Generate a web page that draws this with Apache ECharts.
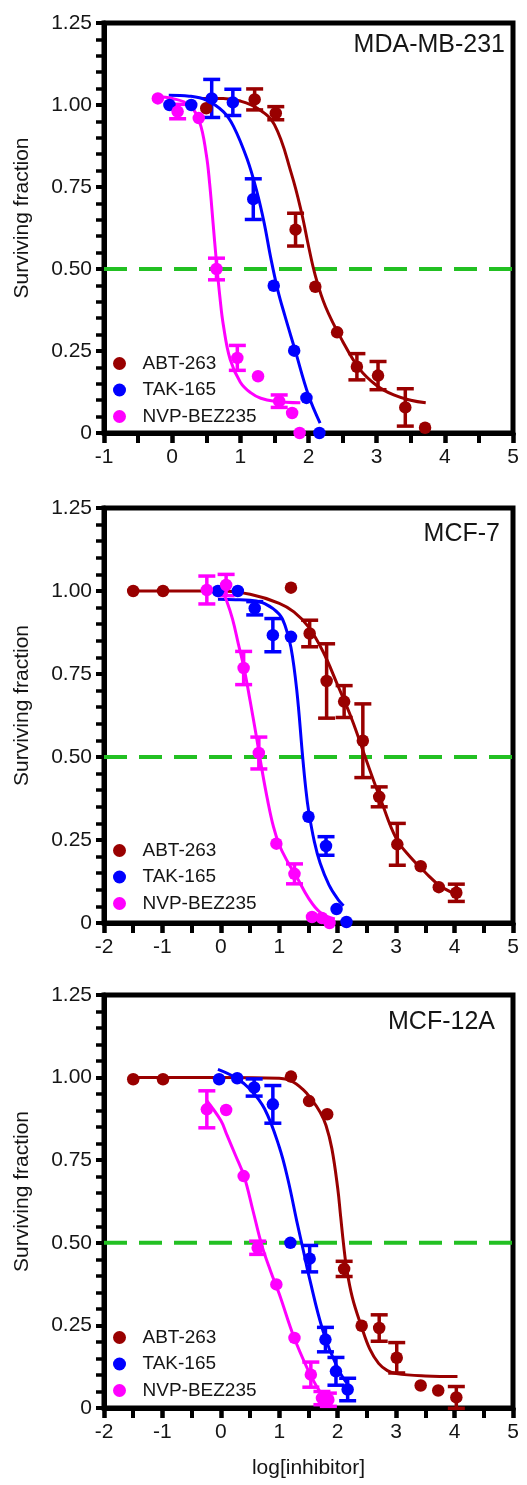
<!DOCTYPE html>
<html>
<head>
<meta charset="utf-8">
<script src="https://cdn.jsdelivr.net/npm/echarts@6/dist/echarts.min.js"></script>
<style>
html,body{margin:0;padding:0;background:#fff;}
#chart{width:527px;height:1485px;}
</style>
</head>
<body>
<div id="chart"></div>
<script>
// ---------- data ----------
const panelTitles = ['MDA-MB-231', 'MCF-7', 'MCF-12A'];
const drugNames = ['ABT-263', 'TAK-165', 'NVP-BEZ235'];
const drugColors = ['#990000', '#0000FF', '#FF00FF'];
const xMins = [-1, -2, -2];
const xMax = 5;
const yTickLabels = ['0', '0.25', '0.50', '0.75', '1.00', '1.25'];
const halfLine = 0.5;
const xAxisTitle = 'log[inhibitor]';
const yAxisTitle = 'Surviving fraction';

// points: [log x, surviving fraction, error (0 = no bar)]
// MDA-MB-231
const mdaABT = [[0.50,0.99,0],[1.21,1.017,0.032],[1.52,0.975,0.02],[1.81,0.62,0.05],[2.10,0.446,0],[2.42,0.307,0],[2.71,0.202,0.04],[3.02,0.175,0.043],[3.42,0.078,0.057],[3.71,0.016,0]];
const mdaTAK = [[-0.04,1.0,0],[0.28,1.0,0],[0.58,1.02,0.058],[0.89,1.008,0.04],[1.19,0.713,0.062],[1.49,0.449,0],[1.79,0.251,0],[1.97,0.107,0],[2.16,0.0,0]];
const mdaNVP = [[-0.21,1.02,0],[0.08,0.98,0.022],[0.39,0.96,0],[0.65,0.50,0.033],[0.956,0.229,0.038],[1.26,0.173,0],[1.57,0.097,0.019],[1.76,0.061,0],[1.87,0.0,0]];
// fitted curves: [log x, fraction]
const mdaABTfit = [[0.45,1.02],[0.75,1.02],[1.0,1.012],[1.25,0.99],[1.5,0.94],[1.75,0.79],[1.9,0.67],[2.0,0.57],[2.1,0.48],[2.25,0.385],[2.5,0.28],[2.75,0.195],[3.0,0.145],[3.25,0.116],[3.5,0.1],[3.72,0.092]];
const mdaTAKfit = [[-0.05,1.03],[0.25,1.027],[0.5,1.015],[0.75,0.98],[0.9,0.935],[1.1,0.835],[1.25,0.73],[1.35,0.64],[1.45,0.53],[1.55,0.435],[1.65,0.36],[1.8,0.255],[2.0,0.115],[2.17,0.03]];
const mdaNVPfit = [[-0.22,1.025],[0.0,1.02],[0.25,1.0],[0.4,0.95],[0.5,0.85],[0.55,0.76],[0.6,0.64],[0.65,0.52],[0.7,0.415],[0.75,0.33],[0.85,0.225],[1.0,0.155],[1.15,0.123],[1.3,0.106],[1.5,0.097],[1.88,0.092]];

// MCF-7
const mcf7ABT = [[-1.50,1.0,0],[-0.99,1.0,0],[1.20,1.01,0],[1.52,0.872,0.04],[1.81,0.729,0.112],[2.11,0.667,0.048],[2.43,0.549,0.111],[2.71,0.38,0.03],[3.02,0.237,0.063],[3.42,0.171,0],[3.73,0.108,0],[4.03,0.091,0.026]];
const mcf7TAK = [[-0.05,1.0,0],[0.29,1.0,0],[0.58,0.948,0.02],[0.89,0.867,0.05],[1.20,0.862,0],[1.50,0.32,0],[1.80,0.232,0.028],[1.98,0.042,0],[2.15,0.003,0]];
const mcf7NVP = [[-0.24,1.003,0.042],[0.09,1.018,0.032],[0.39,0.768,0.05],[0.65,0.512,0.048],[0.95,0.239,0],[1.26,0.148,0.03],[1.56,0.018,0],[1.73,0.015,0],[1.86,0.0,0]];
const mcf7ABTfit = [[-1.5,1.0],[-0.5,1.0],[0,1.0],[0.5,0.99],[1.0,0.963],[1.25,0.937],[1.5,0.892],[1.75,0.817],[2.0,0.716],[2.25,0.61],[2.5,0.485],[2.75,0.365],[3.0,0.255],[3.25,0.197],[3.5,0.152],[3.75,0.112],[4.0,0.088]];
const mcf7TAKfit = [[-0.05,0.975],[0.25,0.974],[0.5,0.972],[0.75,0.962],[1.0,0.93],[1.1,0.895],[1.2,0.83],[1.3,0.7],[1.4,0.5],[1.45,0.41],[1.5,0.34],[1.6,0.245],[1.7,0.18],[1.85,0.115],[2.0,0.072],[2.1,0.052]];
const mcf7NVPfit = [[0,1.01],[0.1,0.97],[0.2,0.915],[0.3,0.84],[0.4,0.765],[0.5,0.67],[0.6,0.57],[0.7,0.465],[0.8,0.37],[0.9,0.29],[1.0,0.235],[1.15,0.182],[1.3,0.138],[1.5,0.075],[1.7,0.032],[1.95,0.012]];

// MCF-12A
const mcf12ABT = [[-1.50,0.995,0],[-0.99,0.995,0],[1.20,1.003,0],[1.51,0.929,0],[1.82,0.889,0],[2.11,0.421,0.023],[2.41,0.249,0],[2.71,0.242,0.04],[3.01,0.152,0.046],[3.42,0.068,0],[3.72,0.053,0],[4.03,0.032,0.033]];
const mcf12TAK = [[-0.03,0.995,0],[0.28,0.998,0],[0.57,0.97,0.026],[0.89,0.919,0.057],[1.19,0.5,0],[1.52,0.452,0.04],[1.79,0.207,0.037],[1.97,0.111,0.042],[2.17,0.056,0.034]];
const mcf12NVP = [[-0.24,0.904,0.056],[0.09,0.902,0],[0.39,0.702,0],[0.63,0.485,0.02],[0.95,0.374,0],[1.26,0.212,0],[1.54,0.101,0.038],[1.73,0.03,0.02],[1.84,0.025,0.02]];
const mcf12ABTfit = [[-1.5,1.0],[0,1.0],[1.0,0.998],[1.2,0.99],[1.4,0.965],[1.55,0.935],[1.7,0.895],[1.8,0.855],[1.9,0.785],[2.0,0.665],[2.05,0.58],[2.1,0.495],[2.15,0.425],[2.25,0.335],[2.4,0.25],[2.55,0.178],[2.7,0.135],[2.85,0.113],[3.0,0.104],[3.5,0.097],[4.05,0.095]];
const mcf12TAKfit = [[-0.05,1.025],[0.25,1.0],[0.5,0.965],[0.75,0.905],[1.0,0.79],[1.15,0.69],[1.3,0.565],[1.42,0.47],[1.5,0.405],[1.75,0.232],[2.0,0.12],[2.2,0.065]];
const mcf12NVPfit = [[-0.24,0.93],[0.0,0.87],[0.1,0.828],[0.25,0.765],[0.4,0.70],[0.55,0.597],[0.7,0.493],[0.85,0.415],[1.0,0.345],[1.25,0.215],[1.5,0.112],[1.65,0.062],[1.8,0.025]];

// ---------- layout / style ----------
const FONT = "'Liberation Sans', Arial, Helvetica, sans-serif";
const TXT = '#151515';
const gridTops = [23, 508, 995];
const gridHeights = [410, 415, 413];
const legendTops = [354, 841, 1328];
const titleTops = [33, 522, 1010];
const titleRights = [22, 27, 32];

const pointsByPanel = [[mdaABT, mdaTAK, mdaNVP], [mcf7ABT, mcf7TAK, mcf7NVP], [mcf12ABT, mcf12TAK, mcf12NVP]];
const fitsByPanel = [[mdaABTfit, mdaTAKfit, mdaNVPfit], [mcf7ABTfit, mcf7TAKfit, mcf7NVPfit], [mcf12ABTfit, mcf12TAKfit, mcf12NVPfit]];

function errRender(color) {
  return function (params, api) {
    const x = api.value(0), y = api.value(1), e = api.value(2);
    const hi = api.coord([x, y + e]);
    const lo = api.coord([x, y - e]);
    const hw = 8.5;
    const st = { stroke: color, lineWidth: 3.5 };
    return {
      type: 'group',
      children: [
        { type: 'line', shape: { x1: hi[0], y1: hi[1], x2: lo[0], y2: lo[1] }, style: st },
        { type: 'line', shape: { x1: hi[0] - hw, y1: hi[1], x2: hi[0] + hw, y2: hi[1] }, style: st },
        { type: 'line', shape: { x1: lo[0] - hw, y1: lo[1], x2: lo[0] + hw, y2: lo[1] }, style: st }
      ]
    };
  };
}

const grids = [], xAxes = [], yAxes = [], titles = [], legends = [], series = [];
for (let p = 0; p < 3; p++) {
  grids.push({ left: 104, right: 14, top: gridTops[p], height: gridHeights[p], show: true, borderColor: '#000', borderWidth: 5, containLabel: false });
  xAxes.push({
    type: 'value', gridIndex: p, min: xMins[p], max: xMax, interval: 1,
    name: p === 2 ? xAxisTitle : '', nameLocation: 'middle', nameGap: 50,
    nameTextStyle: { fontSize: 21, color: TXT, fontFamily: FONT },
    axisLine: { show: true, onZero: false, lineStyle: { color: '#000', width: 5 } },
    axisTick: { show: true, inside: false, length: 10, lineStyle: { color: '#000', width: 4.5 } },
    minorTick: { show: true, splitNumber: 2, length: 10, lineStyle: { color: '#000', width: 4 } },
    splitLine: { show: false }, minorSplitLine: { show: false },
    axisLabel: { fontSize: 21, color: TXT, fontFamily: FONT, margin: 14 }
  });
  yAxes.push({
    type: 'value', gridIndex: p, min: 0, max: 1.25, interval: 0.25,
    name: yAxisTitle, nameLocation: 'middle', nameGap: 71, nameRotate: 90,
    nameTextStyle: { fontSize: 21, color: TXT, fontFamily: FONT, padding: [0, 0, 0, 20] },
    axisLine: { show: true, onZero: false, lineStyle: { color: '#000', width: 5 } },
    axisTick: { show: true, inside: false, length: 8, lineStyle: { color: '#000', width: 4 } },
    minorTick: { show: true, splitNumber: 5, length: 8, lineStyle: { color: '#000', width: 3.5 } },
    splitLine: { show: false }, minorSplitLine: { show: false },
    axisLabel: {
      fontSize: 21, color: TXT, fontFamily: FONT, margin: 12,
      formatter: function (v) { return yTickLabels[Math.round(v / 0.25)]; }
    }
  });
  titles.push({ text: panelTitles[p], right: titleRights[p], top: titleTops[p], padding: 0,
    textStyle: { fontSize: 25, fontWeight: 'normal', color: TXT, fontFamily: FONT } });
  legends.push({ orient: 'vertical', left: 113, top: legendTops[p], padding: 0, itemWidth: 36, itemHeight: 13, itemGap: 7.5,
    icon: 'circle', selectedMode: false, data: drugNames,
    textStyle: { fontSize: 19, color: TXT, fontFamily: FONT } });

  // 50% reference line
  series.push({ type: 'line', name: 'half', xAxisIndex: p, yAxisIndex: p, silent: true, z: 1,
    data: [[xMins[p], halfLine], [xMax, halfLine]], showSymbol: false, symbol: 'none',
    lineStyle: { color: '#22C022', width: 4, type: [23, 12] } });

  for (let d = 0; d < 3; d++) {
    const col = drugColors[d];
    series.push({ type: 'line', name: drugNames[d] + ' fit', xAxisIndex: p, yAxisIndex: p, z: 2,
      data: fitsByPanel[p][d], smooth: 0.4, showSymbol: false, symbol: 'none',
      lineStyle: { color: col, width: 3 }, itemStyle: { color: col } });
    series.push({ type: 'custom', name: drugNames[d] + ' err', xAxisIndex: p, yAxisIndex: p, z: 3,
      renderItem: errRender(col), dimensions: ['x', 'y', 'e'], encode: { x: 0, y: 1 },
      data: pointsByPanel[p][d].filter(r => r[2] > 0) });
    series.push({ type: 'scatter', name: drugNames[d], xAxisIndex: p, yAxisIndex: p, z: 4,
      data: pointsByPanel[p][d].map(r => [r[0], r[1]]), symbol: 'circle', symbolSize: 12.5,
      itemStyle: { color: col, opacity: 1 } });
  }
}

const chart = echarts.init(document.getElementById('chart'), null, { renderer: 'canvas' });
chart.setOption({
  animation: false,
  backgroundColor: '#fff',
  textStyle: { fontFamily: FONT },
  title: titles,
  legend: legends,
  grid: grids,
  xAxis: xAxes,
  yAxis: yAxes,
  series: series
});
</script>
</body>
</html>
